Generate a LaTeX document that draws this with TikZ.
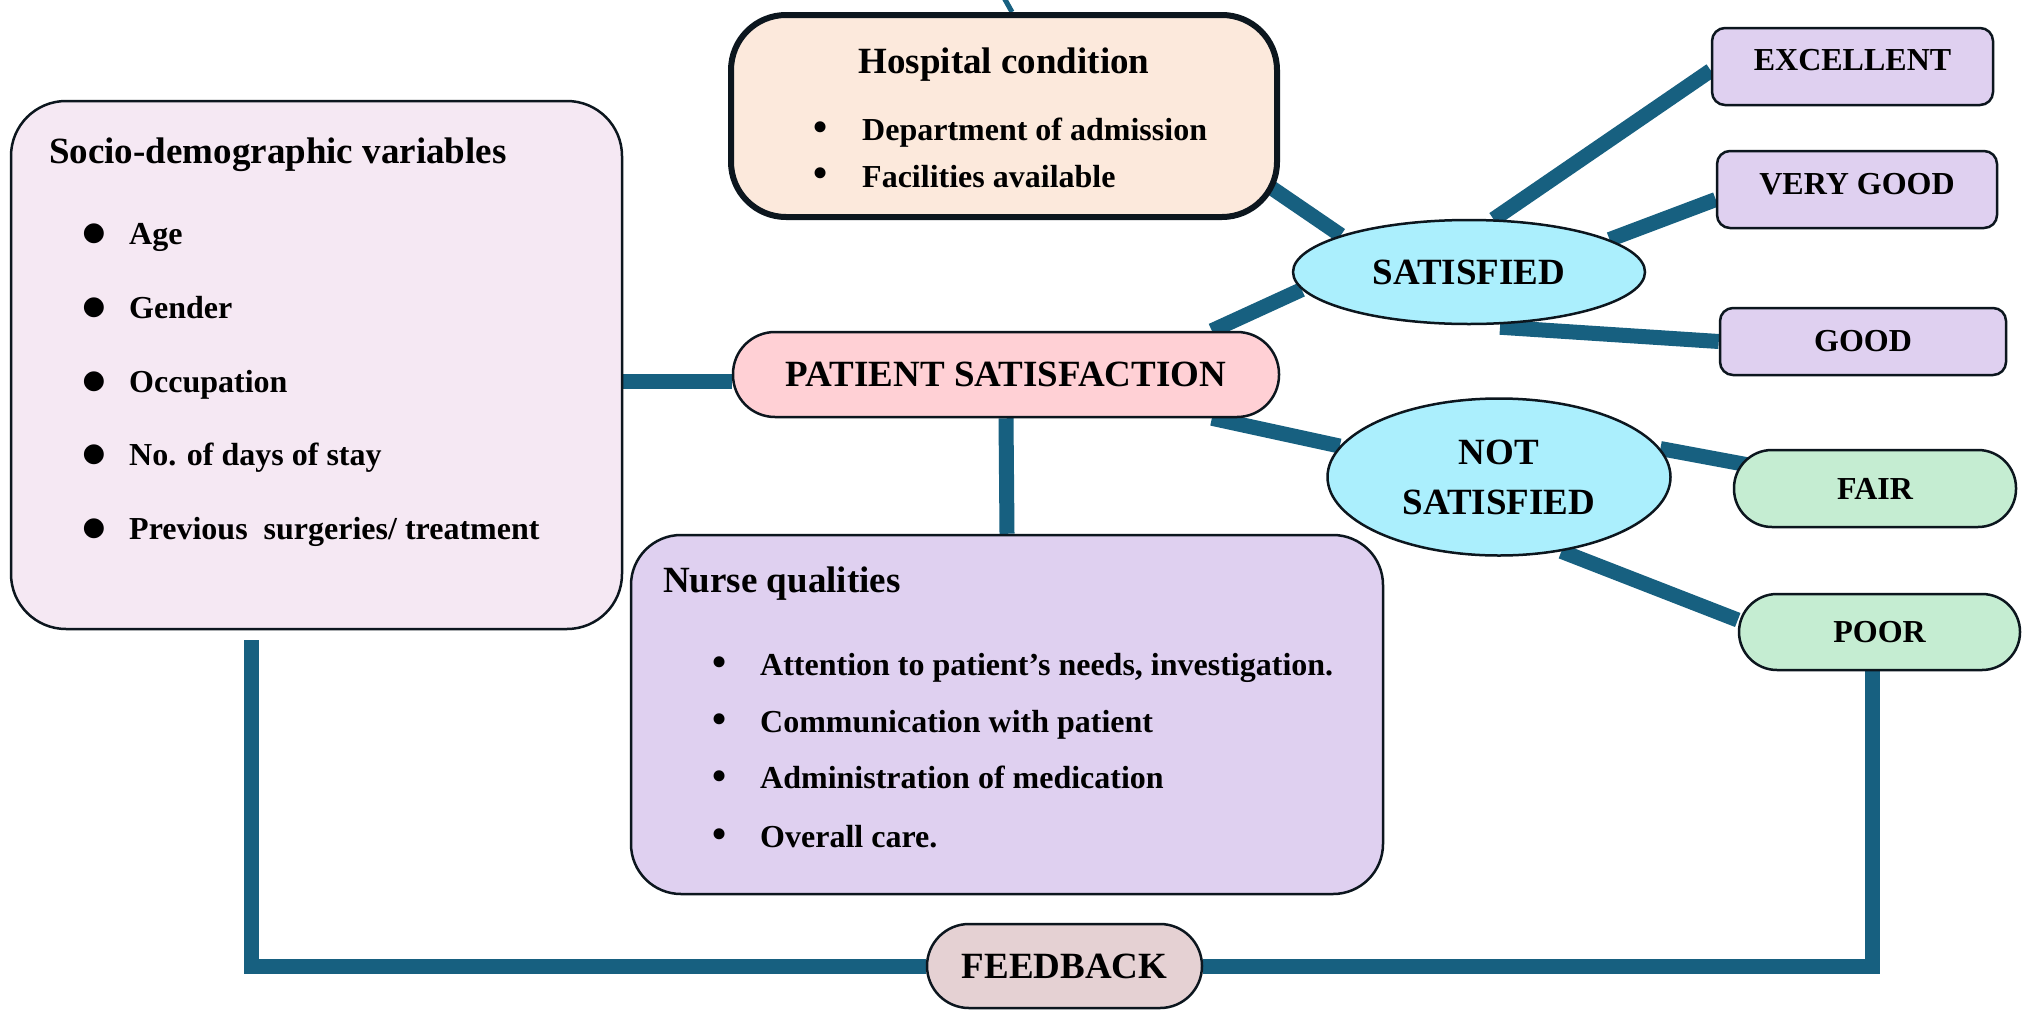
\documentclass[tikz,border=0pt]{standalone}
\usepackage{fontspec}
\setmainfont{Liberation Serif}
\newfontfamily\symfont{DejaVu Sans}
\usetikzlibrary{shapes.geometric,backgrounds,calc}
\definecolor{linkc}{RGB}{23,96,128}
\definecolor{bordc}{RGB}{12,22,30}
\definecolor{socioc}{RGB}{245,232,243}
\definecolor{hospc}{RGB}{252,233,220}
\definecolor{psc}{RGB}{255,208,213}
\definecolor{nursec}{RGB}{223,208,240}
\definecolor{satc}{RGB}{171,239,253}
\definecolor{ratec}{RGB}{223,208,240}
\definecolor{greenc}{RGB}{197,237,210}
\definecolor{fbc}{RGB}{229,209,211}
\begin{document}
\begin{tikzpicture}[x=1pt,y=-1pt,
  link/.style={draw=linkc, line width=15pt},
  box/.style={draw=bordc, line width=2.5pt, inner sep=0pt},
  bigtxt/.style={font=\bfseries\fontsize{37}{50}\selectfont},
  smalltxt/.style={font=\bfseries\fontsize{32}{38}\selectfont},
  itm/.style={smalltxt, anchor=base west, inner sep=0pt},
  ttl/.style={bigtxt, anchor=base west, inner sep=0pt},
  bul/.style={font=\fontsize{46}{50}\selectfont, inner sep=0pt},
  bigbul/.style={font=\symfont\fontsize{26}{30}\selectfont, inner sep=0pt}]
\useasboundingbox (0,0) rectangle (2028,1012);

% main boxes
\node[box, fill=socioc, rounded corners=55pt, minimum width=611pt, minimum height=528pt] (socio) at (316.5,365) {};
\node[box, fill=hospc, line width=6pt, rounded corners=55pt, minimum width=546pt, minimum height=202pt] (hosp) at (1004,116) {};
\node[box, bigtxt, fill=psc, rounded corners=42pt, minimum width=546pt, minimum height=85pt] (ps) at (1006,374.5) {PATIENT SATISFACTION};
\node[box, fill=nursec, rounded corners=50pt, minimum width=752pt, minimum height=359pt] (nurse) at (1007,714.5) {};
\node[ellipse, box, bigtxt, fill=satc, minimum width=352pt, minimum height=104pt] (sat) at (1469,272) {SATISFIED};
\node[ellipse, box, bigtxt, fill=satc, minimum width=343pt, minimum height=157pt, align=center] (ns) at (1499,477) {NOT\\SATISFIED};
\node[box, smalltxt, fill=ratec, rounded corners=13pt, minimum width=281pt, minimum height=77pt] (exc) at (1852.5,66.5) {\raisebox{7pt}[\height][0pt]{EXCELLENT}};
\node[box, smalltxt, fill=ratec, rounded corners=13pt, minimum width=280pt, minimum height=77pt] (vg) at (1857,189.5) {\raisebox{6pt}[\height][0pt]{VERY GOOD}};
\node[box, smalltxt, fill=ratec, rounded corners=13pt, minimum width=286pt, minimum height=67pt] (good) at (1863,341.5) {GOOD};
\node[box, smalltxt, fill=greenc, rounded corners=38pt, minimum width=282pt, minimum height=77pt] (fair) at (1875,488.5) {FAIR};
\node[box, smalltxt, fill=greenc, rounded corners=38pt, minimum width=281pt, minimum height=76pt] (poor) at (1879.5,632) {POOR};
\node[box, bigtxt, fill=fbc, rounded corners=42pt, minimum width=275pt, minimum height=84pt] (fb) at (1064.5,966) {FEEDBACK};

% socio-demographic text
\node[ttl] (sociot) at (49,163) {Socio-demographic variables};
\node[bigbul] (sb1) at (94,234) {●};
\node[bigbul] (sb2) at (94,308) {●};
\node[bigbul] (sb3) at (94,382) {●};
\node[bigbul] (sb4) at (94,455) {●};
\node[bigbul] (sb5) at (94,529) {●};
\node[itm] (s1) at (129,244) {Age};
\node[itm] (s2) at (129,318) {Gender};
\node[itm] (s3) at (129,392) {Occupation};
\node[itm] (s4) at (129,465) {No. of days of stay};
\node[itm] (s5) at (129,539) {Previous~ surgeries/ treatment};

% hospital text
\node[bigtxt, anchor=base, inner sep=0pt] (hospt) at (1004,73) {Hospital condition};
\node[bul] (hb1) at (821,132) {•};
\node[bul] (hb2) at (821,178) {•};
\node[itm] (h1) at (862,140) {Department of admission};
\node[itm] (h2) at (862,187) {Facilities available};

% nurse text
\node[ttl] (nurset) at (663,592) {Nurse qualities};
\node[bul] (nb1) at (720,667) {•};
\node[bul] (nb2) at (720,724) {•};
\node[bul] (nb3) at (720,781) {•};
\node[bul] (nb4) at (720,839) {•};
\node[itm] (n1) at (760,675) {Attention to patient’s needs, investigation.};
\node[itm] (n2) at (760,732) {Communication with patient};
\node[itm] (n3) at (760,788) {Administration of medication};
\node[itm] (n4) at (760,847) {Overall care.};

\coordinate (stub) at (1003,-4);

\begin{scope}[on background layer]
\fill[white] (0,0) rectangle (2028,1012);
\draw[link] ([yshift=-7pt]ps.west -| socio.east) -- ([yshift=-7pt]ps.west);
\draw[link] (ps.south) -- (nurse.north);
\draw[link] (ps.12.5) -- (sat.186);
\draw[link] (ps.-12) -- (ns.169);
\draw[link] ([xshift=-42pt,yshift=55pt]hosp.south east) -- (sat.164);
\draw[link] (sat.65) -- ([yshift=-4pt]exc.west);
\draw[link] (sat.13) -- ([yshift=-10pt]vg.west);
\draw[link] ([xshift=31pt,yshift=-2pt]sat.south) -- (good.west);
\draw[link] (ns.10) -- (fair.center);
\draw[link] (ns.-50) -- ([yshift=12pt]poor.west);
\draw[link] ([xshift=-65pt,yshift=-10pt]socio.south) |- (fb.west);
\draw[link] ([xshift=-7pt]poor.south) |- (fb.east);
\draw[link, line width=5pt] ([xshift=8pt]hosp.north) -- (stub);
\end{scope}
\end{tikzpicture}
\end{document}
